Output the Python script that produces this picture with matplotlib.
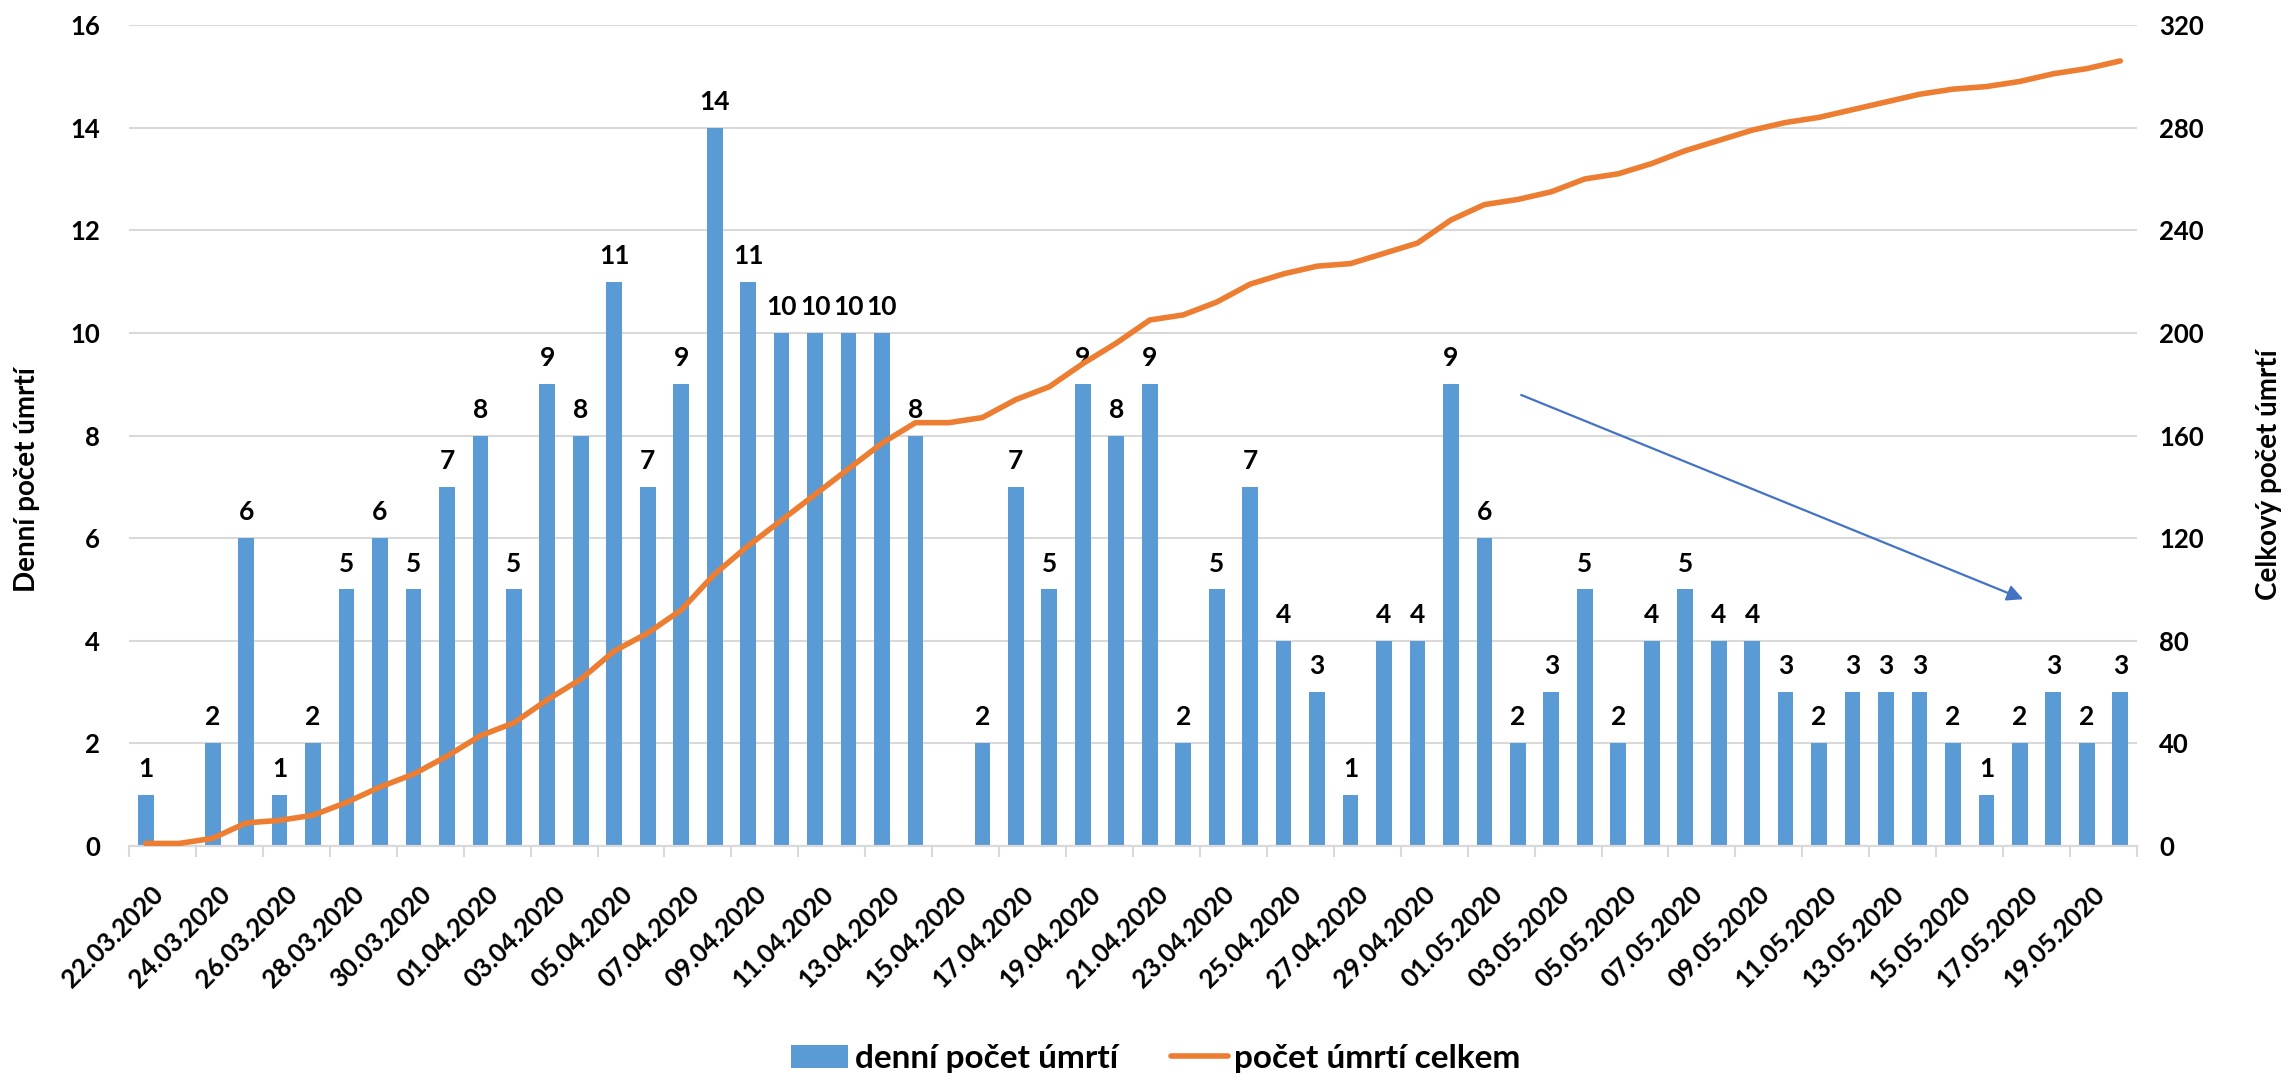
import matplotlib.pyplot as plt
from matplotlib.transforms import ScaledTranslation

plt.rcParams['font.family'] = ['Lato', 'DejaVu Sans']
plt.rcParams['font.weight'] = 'bold'

dates = ['22.03.2020', '23.03.2020', '24.03.2020', '25.03.2020', '26.03.2020',
         '27.03.2020', '28.03.2020', '29.03.2020', '30.03.2020', '31.03.2020',
         '01.04.2020', '02.04.2020', '03.04.2020', '04.04.2020', '05.04.2020',
         '06.04.2020', '07.04.2020', '08.04.2020', '09.04.2020', '10.04.2020',
         '11.04.2020', '12.04.2020', '13.04.2020', '14.04.2020', '15.04.2020',
         '16.04.2020', '17.04.2020', '18.04.2020', '19.04.2020', '20.04.2020',
         '21.04.2020', '22.04.2020', '23.04.2020', '24.04.2020', '25.04.2020',
         '26.04.2020', '27.04.2020', '28.04.2020', '29.04.2020', '30.04.2020',
         '01.05.2020', '02.05.2020', '03.05.2020', '04.05.2020', '05.05.2020',
         '06.05.2020', '07.05.2020', '08.05.2020', '09.05.2020', '10.05.2020',
         '11.05.2020', '12.05.2020', '13.05.2020', '14.05.2020', '15.05.2020',
         '16.05.2020', '17.05.2020', '18.05.2020', '19.05.2020', '20.05.2020']

# denní počet úmrtí
denni = [1, 0, 2, 6, 1, 2, 5, 6, 5, 7,
         8, 5, 9, 8, 11, 7, 9, 14, 11, 10,
         10, 10, 10, 8, 0, 2, 7, 5, 9, 8,
         9, 2, 5, 7, 4, 3, 1, 4, 4, 9,
         6, 2, 3, 5, 2, 4, 5, 4, 4, 3,
         2, 3, 3, 3, 2, 1, 2, 3, 2, 3]

# počet úmrtí celkem
celkem = [1, 1, 3, 9, 10, 12, 17, 23, 28, 35,
          43, 48, 57, 65, 76, 83, 92, 106, 117, 127,
          137, 147, 157, 165, 165, 167, 174, 179, 188, 196,
          205, 207, 212, 219, 223, 226, 227, 231, 235, 244,
          250, 252, 255, 260, 262, 266, 271, 275, 279, 282,
          284, 287, 290, 293, 295, 296, 298, 301, 303, 306]

blue = '#5B9BD5'
orange = '#ED7D31'
grid_c = '#D9D9D9'

fig = plt.figure(figsize=(22.9, 10.8), dpi=100)
fig.subplots_adjust(left=129/2290, right=2137/2290, bottom=1-846/1080, top=1-25/1080)
ax = fig.add_subplot(111)
ax2 = ax.twinx()

x = list(range(len(dates)))
bars = ax.bar(x, denni, width=0.47, color=blue, label='denní počet úmrtí', zorder=2)
ax.bar_label(bars, labels=[str(v) if v > 0 else '' for v in denni],
             padding=10, fontsize=19, fontweight='bold')

line, = ax2.plot(x, celkem, color=orange, lw=4, solid_capstyle='round',
                 label='počet úmrtí celkem', zorder=3)

ax.set_xlim(-0.5, len(dates) - 0.5)
ax.set_ylim(0, 16)
ax2.set_ylim(0, 320)
ax.set_yticks(range(0, 17, 2))
ax2.set_yticks(range(0, 321, 40))

ax.grid(axis='y', color=grid_c, lw=1.5, zorder=0)
ax.set_axisbelow(True)
for a in (ax, ax2):
    for s in ('top', 'left', 'right'):
        a.spines[s].set_visible(False)
    a.spines['bottom'].set_color(grid_c)
    a.spines['bottom'].set_linewidth(1.5)

ax.tick_params(axis='y', length=0, pad=21, labelsize=18.5)
ax2.tick_params(axis='y', length=0, pad=16, labelsize=18.5)

# popisky data (každý druhý den) a značky mezi kategoriemi
ax.set_xticks(x[::2])
ax.set_xticklabels(dates[::2], rotation=45, ha='right', va='center',
                   rotation_mode='anchor', fontsize=18.5)
ax.set_xticks([i - 0.5 for i in range(0, len(dates) + 1, 2)], minor=True)
ax.tick_params(axis='x', which='major', length=0, pad=32)
ax.tick_params(axis='x', which='minor', length=8, width=1.5, color=grid_c)
for lab in ax.get_xticklabels():
    lab.set_transform(lab.get_transform() + ScaledTranslation(0.14, 0, fig.dpi_scale_trans))

fig.text(27/2290, 1-480/1080, 'Denní počet úmrtí', rotation=90, ha='center', va='center',
         fontsize=20, fontweight='bold')
fig.text(2269/2290, 1-475/1080, 'Celkový počet úmrtí', rotation=90, ha='center', va='center',
         fontsize=20, fontweight='bold')

# šipka klesajícího trendu
ax2.annotate('', xy=(56.1, 4.81 * 20), xytext=(41.1, 8.79 * 20),
             arrowprops=dict(arrowstyle='-|>', color='#4472C4', lw=1.6,
                             mutation_scale=24, shrinkA=0, shrinkB=0), zorder=4)

fig.legend(handles=[bars, line], loc='center', bbox_to_anchor=(0.5048, 0.02), ncol=2,
           frameon=False, fontsize=24, handlelength=1.7, handleheight=0.7,
           handletextpad=0.2, columnspacing=1.6)

plt.savefig('out.png', dpi=100)
